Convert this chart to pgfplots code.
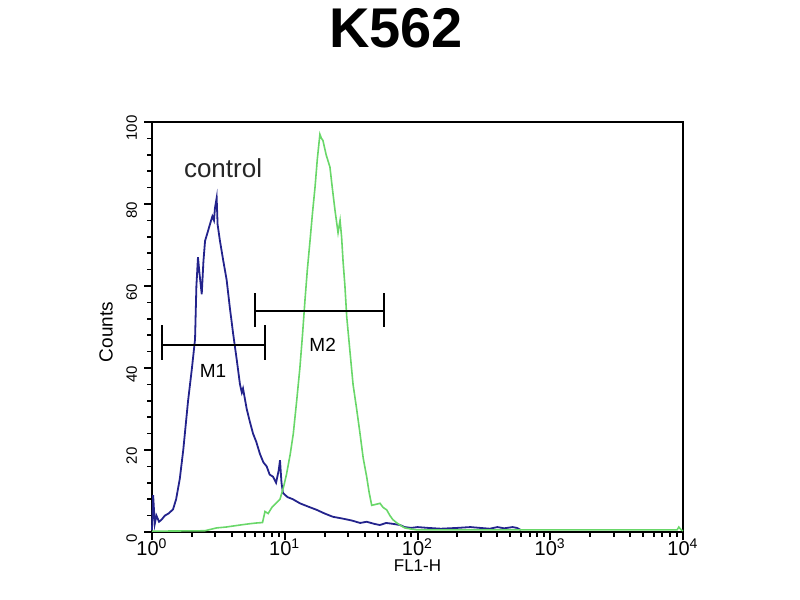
\documentclass[border=0pt]{standalone}
\usepackage{pgfplots}
\pgfplotsset{compat=1.18}
\usepackage{fontspec}
\setmainfont{Liberation Sans}
\definecolor{ctrlblue}{RGB}{35,35,140}
\definecolor{sampgreen}{RGB}{105,215,105}

\begin{document}
\begin{tikzpicture}
\path[use as bounding box] (0,0) rectangle (400pt,300pt);
\node[font=\fontsize{28}{30}\selectfont\bfseries, anchor=base] at (198pt,276pt) {K562};
\begin{axis}[
    at={(76pt,34pt)}, anchor=south west,
    scale only axis, width=265.5pt, height=205pt,
    xmode=log, xmin=1, xmax=10000,
    ymin=0, ymax=100,
    axis line style={line width=1pt},
    tick align=outside,
    xtick pos=bottom, ytick pos=left,
    major tick length=4pt, minor tick length=2.5pt,
    xtick style={black, line width=1pt},
    ytick style={black, line width=0.8pt},
    xtick={1,10,100,1000,10000},
    xticklabels={10\textsuperscript{0},10\textsuperscript{1},10\textsuperscript{2},10\textsuperscript{3},10\textsuperscript{4}},
    minor xtick={2,3,4,5,6,7,8,9,20,30,40,50,60,70,80,90,200,300,400,500,600,700,800,900,2000,3000,4000,5000,6000,7000,8000,9000},
    ytick={0,20,40,60,80,100}, minor y tick num=4,
    /pgf/number format/assume math mode=true,
    yticklabel style={rotate=90, anchor=south, font=\fontsize{7.5}{8}\selectfont, xshift=-3pt},
    xticklabel style={font=\fontsize{10}{11}\selectfont, anchor=base, yshift=-8pt},
    xlabel={FL1-H}, ylabel={Counts},
    xlabel style={font=\fontsize{8.5}{9}\selectfont, at={(axis description cs:0.5,-0.082)}, anchor=center},
    ylabel style={font=\fontsize{9.5}{10}\selectfont, at={(axis description cs:-0.0866,0.488)}, anchor=center},
    clip=false,
]

% control (blue)
\addplot[ctrlblue, line width=0.9pt] coordinates {
    (1.00,0.5) (1.02,9) (1.05,2) (1.08,4) (1.13,2.5) (1.18,3) (1.25,4) (1.33,4.5)
    (1.44,5.5) (1.52,8) (1.62,13) (1.72,20) (1.87,32) (2.00,40) (2.11,47) (2.16,60)
    (2.22,67) (2.28,63) (2.37,58) (2.44,66) (2.51,71) (2.62,73) (2.73,75) (2.85,77)
    (2.93,76) (2.98,79) (3.07,81.5) (3.12,75) (3.25,71) (3.45,66) (3.65,61.5) (3.85,55)
    (4.08,48.5) (4.35,42) (4.60,36) (4.75,34) (4.85,35) (5.17,30) (5.45,27) (5.77,24)
    (6.1,22) (6.51,19) (6.9,17) (7.31,16) (7.7,14) (8.15,13.5) (8.6,12) (9.0,15)
    (9.21,17.5) (9.45,12) (9.70,9.5) (10.5,8.5) (11.5,8) (13.0,7) (15,6.2) (17.4,5.4)
    (20,4.5) (23.1,3.7) (27,3.3) (32,2.8) (37,2.2) (41.4,2.5) (47,2.0) (52,1.7)
    (58,2.2) (65,2.0) (74,1.7) (80,1.2) (90,1.0) (100,1.2) (120,1.0) (150,0.8)
    (200,1.0) (250,1.2) (296,1.0) (350,0.8) (400,1.2) (450,0.9) (520,1.2) (560,1.0)
    (600,0.5)
};

% stained sample (green)
\addplot[sampgreen, line width=0.8pt] coordinates {
    (1.0,0.2) (2.5,0.3) (3.07,1) (3.6,1.2) (4.60,1.7) (5.4,2.0) (6.15,2.2) (6.8,2.3)
    (7.1,5) (7.5,4.5) (8.0,6) (8.6,7) (9.21,8) (9.8,11) (10.3,14) (11.0,19)
    (11.6,24) (12.3,32) (13.0,40) (13.6,48) (14.2,56.5) (14.8,64) (15.5,71) (16.2,78)
    (16.9,84) (17.6,91) (18.4,97) (18.9,96) (19.4,95.5) (20.5,92) (21.9,89) (22.8,84)
    (23.9,78.5) (25.2,73) (26.1,76) (26.8,72) (27.5,66) (28.4,60) (29.3,52.5) (31,44)
    (32.7,36) (34.8,30) (36.9,24) (39,18) (41.4,13.5) (43.3,9.5) (45.2,6.5) (48,6.7)
    (52.2,7) (55,6) (58.6,5.4) (62,4) (65.3,3) (70,2.2) (73.8,1.7) (80,1.0)
    (90,0.7) (100,0.5) (200,0.5) (1000,0.5) (5000,0.5) (9000,0.5) (9300,1.2) (9700,0.5)
    (10000,0.3)
};

% marker M1
\addplot[black, line width=1pt] coordinates {(1.18,45.6) (7.06,45.6)};
\addplot[black, line width=1pt] coordinates {(1.18,42) (1.18,50.5)};
\addplot[black, line width=1pt] coordinates {(7.06,42) (7.06,50.5)};
% marker M2
\addplot[black, line width=1pt] coordinates {(5.97,54) (56.2,54)};
\addplot[black, line width=1pt] coordinates {(5.97,50.1) (5.97,58.2)};
\addplot[black, line width=1pt] coordinates {(56.2,50.1) (56.2,58.2)};

\node[font=\fontsize{13}{14}\selectfont, text=black!85] at (axis cs:3.43,88.8) {control};
\node[font=\fontsize{9.5}{10}\selectfont] at (axis cs:2.88,39.3) {M1};
\node[font=\fontsize{9.5}{10}\selectfont] at (axis cs:19.3,45.6) {M2};

\end{axis}
\end{tikzpicture}
\end{document}
